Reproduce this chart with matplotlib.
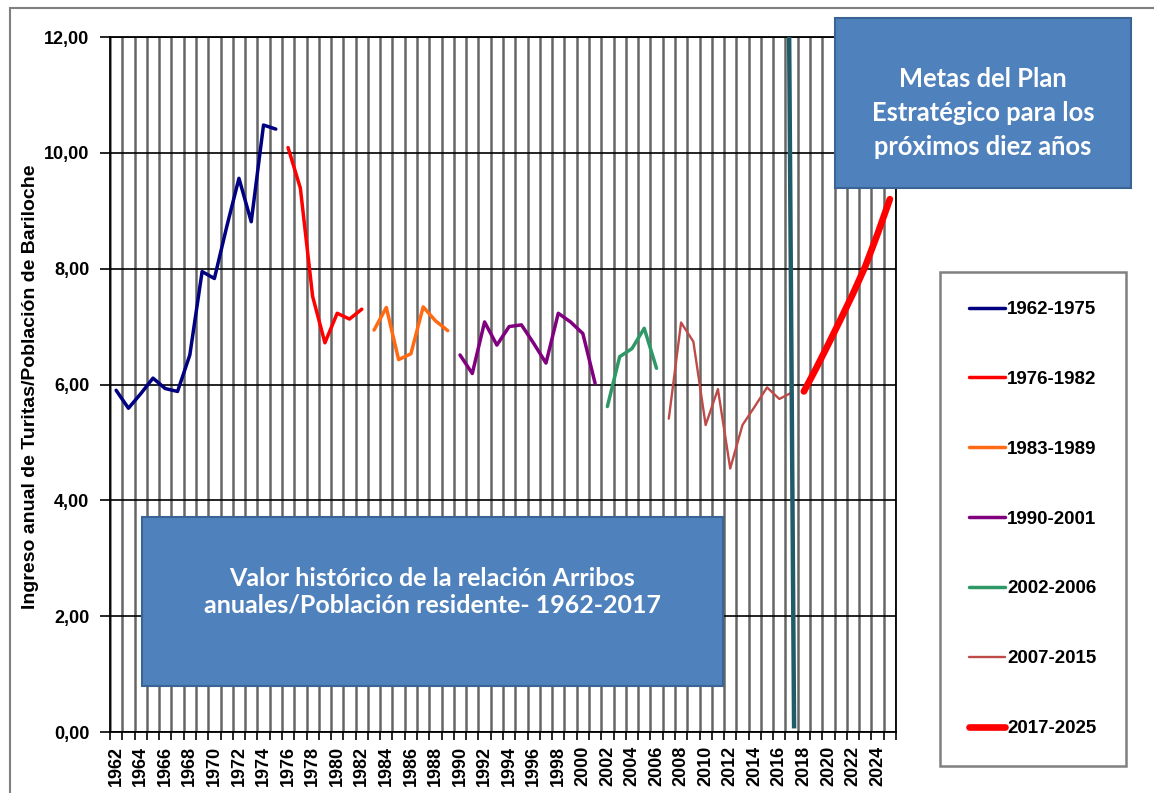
import numpy as np
import matplotlib
matplotlib.use("Agg")
from matplotlib import pyplot as plt
from matplotlib.patches import Rectangle

W, H = 1154, 793

# series (year ranges + values)
years_a = list(range(1962, 1976))
vals_a = [5.90, 5.59, 5.84, 6.11, 5.93, 5.88, 6.51, 7.95, 7.83, 8.72, 9.56, 8.81, 10.48, 10.41]

years_b = list(range(1976, 1983))
vals_b = [10.09, 9.39, 7.52, 6.72, 7.23, 7.13, 7.30]

years_c = list(range(1983, 1990))
vals_c = [6.94, 7.33, 6.43, 6.53, 7.34, 7.10, 6.93]

years_d = list(range(1990, 2002))
vals_d = [6.51, 6.19, 7.08, 6.68, 7.00, 7.03, 6.71, 6.37, 7.23, 7.08, 6.88, 6.02]

years_e = list(range(2002, 2007))
vals_e = [5.62, 6.48, 6.62, 6.97, 6.28]

years_f = list(range(2007, 2018))
vals_f = [5.41, 7.07, 6.74, 5.30, 5.92, 4.55, 5.30, 5.62, 5.95, 5.75, 5.86]

years_g = list(range(2018, 2026))
vals_g = [5.88, 6.28, 6.70, 7.13, 7.57, 8.04, 8.60, 9.20]

labels = ['1962-1975', '1976-1982', '1983-1989', '1990-2001',
          '2002-2006', '2007-2015', '2017-2025']
colors = ['#000080', '#FF0000', '#FF6A13', '#800080', '#2E9966', '#BE4B48', '#FF0000']
widths = [2.5, 2.5, 2.5, 2.5, 2.5, 1.7, 4.8]

series = [(years_a, vals_a), (years_b, vals_b), (years_c, vals_c), (years_d, vals_d),
          (years_e, vals_e), (years_f, vals_f), (years_g, vals_g)]

first_year, last_year = 1962, 2025
y_ticks = [0, 2, 4, 6, 8, 10, 12]
y_tick_labels = ['0,00', '2,00', '4,00', '6,00', '8,00', '10,00', '12,00']

fig = plt.figure(figsize=(W / 100, H / 100), dpi=100)
ax = fig.add_axes([110 / W, 1 - 732 / H, (896 - 110) / W, (732 - 37) / H])

ax.set_xlim(first_year - 0.5, last_year + 0.5)
ax.set_ylim(0, 12)

# vertical grid at category boundaries, horizontal grid at y ticks
bounds = np.arange(first_year - 0.5, last_year + 1.0, 1.0)
ax.set_xticks(bounds, minor=True)
ax.set_xticks(list(range(first_year, last_year + 1, 2)))
ax.set_xticklabels([str(y) for y in range(first_year, last_year + 1, 2)],
                   rotation=90, fontsize=13, fontweight='bold', family='Liberation Sans')
ax.tick_params(axis='x', which='major', length=0, pad=10)
ax.tick_params(axis='x', which='minor', length=6, width=1.2, direction='out')
ax.grid(True, axis='x', which='minor', color='#666666', lw=1.8)
ax.set_yticks(y_ticks)
ax.set_yticklabels(y_tick_labels, fontsize=13, fontweight='bold', family='Liberation Sans')
ax.tick_params(axis='y', length=7, width=1.2, pad=8)
ax.grid(True, axis='y', which='major', color='black', lw=1.2)
ax.set_axisbelow(True)
for s in ax.spines.values():
    s.set_color('black')
    s.set_linewidth(1.3)

fig.text(31 / W, 1 - 387 / H, 'Ingreso anual de Turitas/Población de Bariloche',
         rotation=90, ha='center', va='center', fontsize=14, fontweight='bold',
         family='Liberation Sans')

for (xs, ys), c, lw, lab in zip(series, colors, widths, labels):
    ax.plot(xs, ys, color=c, lw=lw, solid_capstyle='round', solid_joinstyle='round',
            label=lab, zorder=3)

# divider line at 2017
ax.plot([2016.8, 2017.2], [12, 0.1], color='#1F5B68', lw=3.2, zorder=4)

# outer chart border
fig.add_artist(Rectangle((10 / W, -0.02), 1.05, 1 - 8 / H + 0.02, transform=fig.transFigure,
                         fill=False, edgecolor='#808080', lw=1.5))

# text boxes
def box(x0, y0, x1, y1, ty, txt, fs, ls):
    fig.add_artist(Rectangle((x0 / W, 1 - y1 / H), (x1 - x0) / W, (y1 - y0) / H,
                             transform=fig.transFigure, facecolor='#4F81BD',
                             edgecolor='#3A6496', lw=1.5, zorder=5))
    fig.text((x0 + x1) / 2 / W, 1 - ty / H, txt, ha='center', va='center',
             color='white', fontsize=fs, fontweight='bold', family='Lato',
             linespacing=ls, zorder=6)

box(142, 517, 723, 686, 592, 'Valor histórico de la relación Arribos\nanuales/Población residente- 1962-2017', 18, 1.2)
box(835, 18, 1131, 188, 113, 'Metas del Plan\nEstratégico para los\npróximos diez años', 18.4, 1.49)

leg = fig.legend(handles=ax.get_lines()[:7], loc='upper left',
                 bbox_to_anchor=(940 / W, 1 - 272 / H), bbox_transform=fig.transFigure,
                 prop={'family': 'Liberation Sans', 'weight': 'bold', 'size': 13.5},
                 labelspacing=2.81, handlelength=1.92, handletextpad=0.1,
                 borderpad=1.55, borderaxespad=0, fancybox=False, framealpha=1,
                 edgecolor='#808080')
leg.get_frame().set_linewidth(1.8)
leg.set_zorder(7)

fig.savefig('out.png', dpi=100)
